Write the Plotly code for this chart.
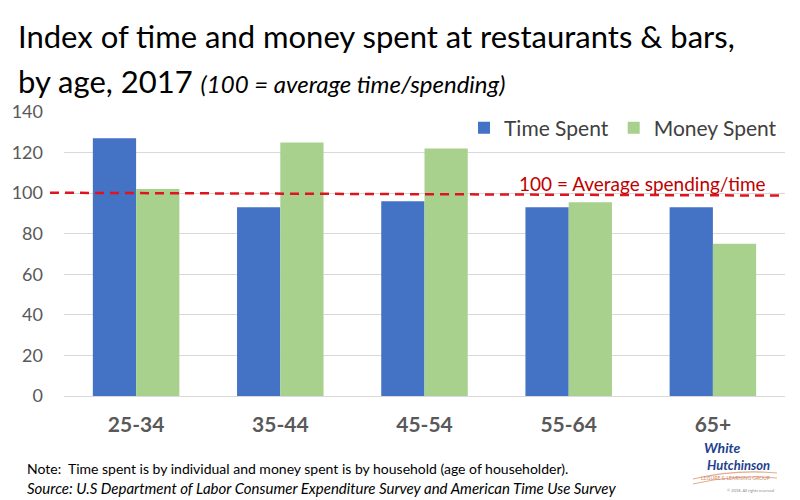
import plotly.graph_objects as go

categories = ["25-34", "35-44", "45-54", "55-64", "65+"]
time_spent = [127, 93, 96, 93, 93]
money_spent = [102, 125, 122, 95.5, 75]
y_ticks = [0, 20, 40, 60, 80, 100, 120, 140]
avg_line = 100

W, H = 800, 500
L, R, T, B = 64, 15, 112, 104
pw, ph = W - L - R, H - T - B


def px(x):
    return (x - L) / pw


def py(y):
    return (H - B - y) / ph


fig = go.Figure()
fig.add_trace(go.Bar(name="Time Spent", x=categories, y=time_spent,
                     marker=dict(color="#4472C4", line=dict(width=0))))
fig.add_trace(go.Bar(name="Money Spent", x=categories, y=money_spent,
                     marker=dict(color="#A9D18E", line=dict(width=0))))

fig.update_layout(
    width=W, height=H,
    margin=dict(l=L, r=R, t=T, b=B, autoexpand=False),
    paper_bgcolor="white", plot_bgcolor="white",
    barmode="group", bargap=0.4, bargroupgap=0,
    font=dict(family="Lato, sans-serif", color="#595959"),
    showlegend=True,
    legend=dict(orientation="h", x=px(782), xanchor="right", y=py(128), yanchor="middle",
                font=dict(size=21, color="#404040"), bgcolor="rgba(0,0,0,0)",
                itemwidth=30, traceorder="normal"),
    xaxis=dict(showgrid=False, showline=False, ticks="",
               tickfont=dict(size=21, color="#595959", weight="bold"),
               automargin=False, ticklabelstandoff=14),
    yaxis=dict(range=[0, 140], tickvals=y_ticks, showgrid=True, gridcolor="#d9d9d9", gridwidth=1,
               zeroline=True, zerolinecolor="#d9d9d9", zerolinewidth=1, showline=False,
               tickfont=dict(size=18, color="#595959"), automargin=False, ticklabelstandoff=20),
)

fig.add_shape(type="line", xref="paper", yref="y", x0=px(50), x1=px(780),
              y0=avg_line + 0.2, y1=avg_line - 1.2,
              line=dict(color="#e0141e", width=2.5, dash="9px,6px"))

# logo swooshes (decorative)
fig.add_shape(type="path", xref="paper", yref="paper",
              path=f"M {px(693)} {py(479)} Q {px(735)} {py(469)} {px(777)} {py(473)}",
              line=dict(color="#e8a98c", width=1.2))
fig.add_shape(type="path", xref="paper", yref="paper",
              path=f"M {px(693)} {py(484)} Q {px(735)} {py(474)} {px(777)} {py(478)}",
              line=dict(color="#e8a98c", width=1.0))

ann = [
    dict(text="100 = Average spending/time", x=px(768), y=py(183), xanchor="right", yanchor="middle",
         font=dict(size=19, color="#c00000")),
    dict(text="Index of time and money spent at restaurants & bars,", x=px(16), y=py(36),
         xanchor="left", yanchor="middle", font=dict(size=31, color="#000000")),
    dict(text="by age, 2017 <i><span style='font-size:24px'>(100 = average time/spending)</span></i>",
         x=px(16), y=py(81), xanchor="left", yanchor="middle", font=dict(size=31, color="#000000")),
    dict(text="Note:  Time spent is by individual and money spent is by household (age of householder).",
         x=px(25), y=py(468), xanchor="left", yanchor="middle", font=dict(size=14, color="#000000")),
    dict(text="<i>Source: U.S Department of Labor Consumer Expenditure Survey and American Time Use Survey</i>",
         x=px(25), y=py(488), xanchor="left", yanchor="middle", font=dict(size=15, color="#000000")),
    dict(text="<b><i>White</i></b>", x=px(722), y=py(447), xanchor="center", yanchor="middle",
         font=dict(size=14, color="#1f3f8f")),
    dict(text="<b><i>Hutchinson</i></b>", x=px(738), y=py(465), xanchor="center", yanchor="middle",
         font=dict(size=13, color="#1f3f8f")),
    dict(text="LEISURE & LEARNING GROUP", x=px(735), y=py(478), xanchor="center", yanchor="middle",
         font=dict(size=5, color="#c98a6a")),
    dict(text="© 2018. All rights reserved", x=px(750), y=py(490), xanchor="center", yanchor="middle",
         font=dict(size=4, color="#888888")),
]
for a in ann:
    fig.add_annotation(xref="paper", yref="paper", showarrow=False, **a)

fig.write_html("out.html", config={"displayModeBar": False},
               post_script="document.body.style.margin='0';document.body.style.overflow='hidden';")
